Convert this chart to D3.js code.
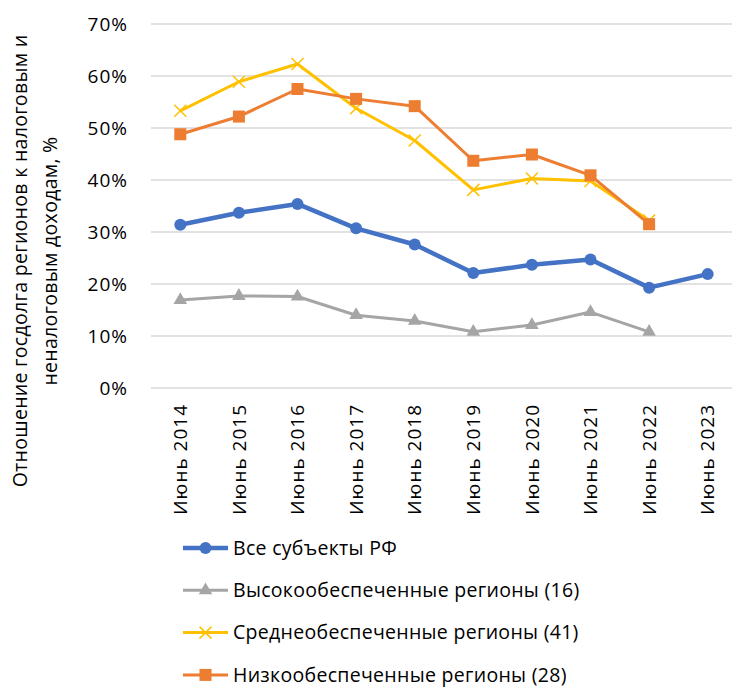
<!DOCTYPE html>
<html>
<head>
<meta charset="utf-8">
<script src="https://cdn.jsdelivr.net/npm/d3@7"></script>
<style>
  body { margin: 0; background: #fff; }
  svg { display: block; font-family: "Open Sans", sans-serif; }
</style>
</head>
<body>
<svg width="732" height="688"></svg>
<script>
'use strict';

// categories
var years = ["Июнь 2014", "Июнь 2015", "Июнь 2016", "Июнь 2017", "Июнь 2018",
             "Июнь 2019", "Июнь 2020", "Июнь 2021", "Июнь 2022", "Июнь 2023"];
var yTicks = [0, 10, 20, 30, 40, 50, 60, 70];

// series values, %
var allRegions  = [31.4, 33.7, 35.4, 30.7, 27.6, 22.1, 23.7, 24.7, 19.3, 21.9];
var highRegions = [16.9, 17.7, 17.6, 14.0, 12.9, 10.8, 12.1, 14.6, 10.8, null];
var midRegions  = [53.3, 58.9, 62.3, 53.8, 47.6, 38.1, 40.3, 39.8, 32.2, null];
var lowRegions  = [48.8, 52.2, 57.5, 55.6, 54.2, 43.7, 44.9, 40.9, 31.5, null];

var seriesNames = ["Все субъекты РФ", "Высокообеспеченные регионы (16)",
                   "Среднеобеспеченные регионы (41)", "Низкообеспеченные регионы (28)"];

var series = [
  {name: seriesNames[0], values: allRegions,  color: "#4472C4", width: 4.5, marker: "circle"},
  {name: seriesNames[1], values: highRegions, color: "#A5A5A5", width: 3,   marker: "triangle"},
  {name: seriesNames[2], values: midRegions,  color: "#FFC000", width: 3,   marker: "cross"},
  {name: seriesNames[3], values: lowRegions,  color: "#ED7D31", width: 3,   marker: "square"}
];

var svg = d3.select("svg");
var plotLeft = 151, plotRight = 737, plotTop = 24, plotBottom = 388;

var x = d3.scaleBand().domain(years).range([plotLeft, plotRight]);
var y = d3.scaleLinear().domain([0, 70]).range([plotBottom, plotTop]);

// gridlines
svg.append("g")
  .selectAll("line")
  .data(yTicks)
  .enter().append("line")
    .attr("x1", plotLeft).attr("x2", plotRight)
    .attr("y1", function(d) { return y(d); })
    .attr("y2", function(d) { return y(d); })
    .attr("stroke", "#D9D9D9")
    .attr("stroke-width", 1.5);

// y axis
var yAxis = d3.axisLeft(y)
  .tickValues(yTicks)
  .tickSize(0)
  .tickPadding(23)
  .tickFormat(function(d) { return d + "%"; });

var gy = svg.append("g")
  .attr("transform", "translate(" + plotLeft + ",0)")
  .call(yAxis);
gy.select(".domain").remove();
gy.selectAll("text")
  .attr("font-size", 19)
  .attr("letter-spacing", 1)
  .attr("font-family", "Open Sans, sans-serif")
  .attr("fill", "#000")
  .attr("dy", "0.35em");

// x axis
var xAxis = d3.axisBottom(x).tickSize(0);
var gx = svg.append("g")
  .attr("transform", "translate(0," + plotBottom + ")")
  .call(xAxis);
gx.select(".domain").remove();
gx.selectAll("text")
  .attr("font-size", 19)
  .attr("letter-spacing", 1)
  .attr("font-family", "Open Sans, sans-serif")
  .attr("fill", "#000")
  .attr("transform", "rotate(-90)")
  .attr("text-anchor", "end")
  .attr("x", -16)
  .attr("y", 0)
  .attr("dy", "0.35em");

// y axis title
var title = svg.append("text")
  .attr("transform", "translate(27,261) rotate(-90)")
  .attr("text-anchor", "middle")
  .attr("font-size", 19.5)
  .attr("letter-spacing", 0.3)
  .attr("fill", "#000");
title.append("tspan").attr("x", 0).attr("dy", 0).text("Отношение госдолга регионов к налоговым и");
title.append("tspan").attr("x", 0).attr("dy", 30).text("неналоговым доходам, %");

function drawMarker(g, type, color) {
  if (type === "circle") {
    g.append("circle").attr("r", 6).attr("fill", color);
  } else if (type === "square") {
    g.append("rect").attr("x", -6).attr("y", -6).attr("width", 12).attr("height", 12).attr("fill", color);
  } else if (type === "triangle") {
    g.append("path").attr("d", d3.symbol().type(d3.symbolTriangle).size(80)()).attr("fill", color);
  } else if (type === "cross") {
    g.append("path").attr("d", "M-6,-6L6,6M-6,6L6,-6")
      .attr("stroke", color).attr("stroke-width", 1.5).attr("fill", "none");
  }
}

var line = d3.line()
  .defined(function(d) { return d.v != null; })
  .x(function(d) { return x(d.k) + x.bandwidth() / 2; })
  .y(function(d) { return y(d.v); });

// draw in order so blue ends up on top of the lower ones, orange on top of yellow
var drawOrder = [1, 0, 2, 3];
drawOrder.forEach(function(i) {
  var s = series[i];
  var pts = years.map(function(k, j) { return {k: k, v: s.values[j]}; });
  svg.append("path")
    .datum(pts)
    .attr("d", line)
    .attr("fill", "none")
    .attr("stroke", s.color)
    .attr("stroke-width", s.width)
    .attr("stroke-linejoin", "round");
  svg.append("g").selectAll("g")
    .data(pts.filter(function(d) { return d.v != null; }))
    .enter().append("g")
      .attr("transform", function(d) { return "translate(" + (x(d.k) + x.bandwidth() / 2) + "," + y(d.v) + ")"; })
      .each(function() { drawMarker(d3.select(this), s.marker, s.color); });
});

// legend
var legend = svg.append("g");
series.forEach(function(s, i) {
  var ly = 548 + i * 42.3;
  var g = legend.append("g").attr("transform", "translate(0," + ly + ")");
  g.append("line")
    .attr("x1", 183).attr("x2", 228)
    .attr("stroke", s.color).attr("stroke-width", s.width);
  var m = g.append("g").attr("transform", "translate(205.5,0)");
  drawMarker(m, s.marker, s.color);
  g.append("text")
    .attr("x", 233).attr("y", 0).attr("dy", "0.35em")
    .attr("font-size", 19.5)
    .attr("letter-spacing", 0.3)
    .attr("fill", "#000")
    .text(s.name);
});
</script>
</body>
</html>
